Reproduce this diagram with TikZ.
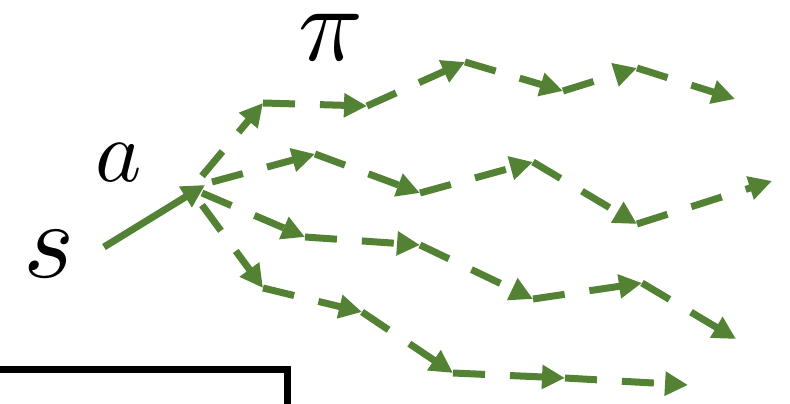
\documentclass[tikz,border=0pt]{standalone}
\usetikzlibrary{arrows.meta}
\definecolor{trajgreen}{RGB}{84,130,53}
\tikzset{
  lbl/.style={inner sep=0pt},
  act/.style={trajgreen, line width=0.14cm, -{Triangle[length=0.46cm,width=0.46cm]}},
  traj/.style={act, dash pattern=on 0.64cm off 0.5cm},
}

\begin{document}
\begin{tikzpicture}[x=0.02cm, y=-0.02cm]
  \useasboundingbox (0,0) rectangle (790,404);
  % Etiquetas
  \node[lbl, scale=6.2] (s) at (49,254) {$s$};
  \node[lbl, scale=5.0] (a) at (119,163) {$a$};
  \node[lbl, scale=6.1] (pi) at (331,37) {$\pi$};
  % Accion desde el estado
  \coordinate (st) at (104,247);
  \coordinate (hub) at (205,185);
  \draw[act] (st) -- (hub);
  % Puntos de las trayectorias
  \foreach \n/\px/\py in {0/202/176, 1/263/103, 2/367/106, 3/465/62, 4/563/91, 5/637/68, 6/735/99}
    \coordinate (t1p\n) at (\px,\py);
  \foreach \n/\px/\py in {0/212/182, 1/315/154, 2/420/193, 3/533/162, 4/637/224, 5/772/181}
    \coordinate (t2p\n) at (\px,\py);
  \foreach \n/\px/\py in {0/202/193, 1/305/237, 2/420/245, 3/533/299, 4/642/283, 5/736/339}
    \coordinate (t3p\n) at (\px,\py);
  \foreach \n/\px/\py in {0/202/205, 1/263/288, 2/362/312, 3/453/373, 4/565/378, 5/688/385}
    \coordinate (t4p\n) at (\px,\py);
  % Trayectorias de la politica
  \foreach \k/\m in {1/6, 2/5, 3/5, 4/5}
    \foreach \e [remember=\e as \b (initially 0)] in {1,...,\m}
      \draw[traj] (t\k p\b) -- (t\k p\e);
  % Marco inferior
  \draw[line width=0.14cm] (0,370) -- (287,370) -- (287,404);
\end{tikzpicture}
\end{document}
